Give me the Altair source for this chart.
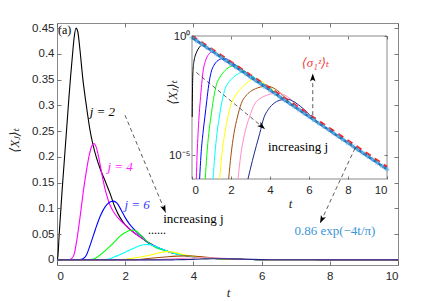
import math
import altair as alt
import pandas as pd

W, H = 341, 242

# ---------------- data ----------------
curve_labels = ["2", "4", "6", "8", "10", "12", "14", "16", "18"]
curve_colors = ["#000000", "#ff00ff", "#0000ff", "#00ff00", "#00ffff",
                "#ffff00", "#a0500f", "#ff8cc6", "#1c2a8c"]

t_j2 = [0, 0.01, 0.03, 0.06, 0.1, 0.15, 0.2, 0.25, 0.3, 0.35, 0.4, 0.45, 0.5, 0.557,
        0.61, 0.67, 0.76, 0.86, 0.96, 1.05, 1.15, 1.26, 1.4, 1.55, 1.7, 1.85, 2.0]
v_j2 = [0, 4e-4, 0.01, 0.045, 0.085, 0.135, 0.18, 0.225, 0.27, 0.315, 0.357, 0.395, 0.43, 0.45,
        0.443, 0.41, 0.35, 0.30, 0.255, 0.225, 0.20, 0.178, 0.155, 0.13, 0.102, 0.082, 0.068]

t_j4 = [0, 0.22, 0.26, 0.31, 0.36, 0.42, 0.5, 0.58, 0.68, 0.77, 0.86, 0.95, 1.02, 1.08,
        1.15, 1.25, 1.35, 1.45, 1.55, 1.7, 1.85, 2.0]
v_j4 = [0, 1e-6, 1e-5, 8e-5, 4e-4, 0.0018, 0.01, 0.038, 0.085, 0.132, 0.172, 0.205, 0.221, 0.226,
        0.219, 0.19, 0.155, 0.127, 0.107, 0.089, 0.077, 0.068]

t_j6 = [0, 0.39, 0.46, 0.56, 0.66, 0.76, 0.86, 0.98, 1.13, 1.27, 1.4, 1.52, 1.65, 1.76,
        1.88, 2.0, 2.12, 2.25, 2.4, 2.55]
v_j6 = [0, 1e-6, 1e-5, 8e-5, 4e-4, 0.002, 0.009, 0.03, 0.06, 0.085, 0.102, 0.111, 0.114, 0.11,
        0.097, 0.082, 0.07, 0.06, 0.05, 0.042]

t_j8 = [0, 0.68, 0.76, 0.86, 0.97, 1.1, 1.25, 1.4, 1.55, 1.7, 1.85, 2.0, 2.12, 2.22,
        2.32, 2.45, 2.6, 2.75, 2.9, 3.05]
v_j8 = [0, 1e-6, 1e-5, 8e-5, 4e-4, 0.0022, 0.009, 0.017, 0.026, 0.036, 0.046, 0.053, 0.057, 0.058,
        0.056, 0.048, 0.038, 0.03, 0.024, 0.02]

t_j10 = [0, 1.08, 1.17, 1.28, 1.4, 1.55, 1.71, 1.85, 2.0, 2.15, 2.3, 2.45, 2.6, 2.72,
         2.85, 3.0, 3.15, 3.3, 3.45, 3.6]
v_j10 = [0, 1e-6, 1e-5, 8e-5, 4e-4, 0.002, 0.0065, 0.0105, 0.015, 0.0195, 0.024, 0.028, 0.0298, 0.0295,
         0.027, 0.023, 0.019, 0.0155, 0.0126, 0.0102]

t_j12 = [0, 1.42, 1.53, 1.68, 1.84, 2.0, 2.2, 2.4, 2.6, 2.8, 3.0, 3.2, 3.35, 3.5, 3.7, 3.9, 4.1]
v_j12 = [0, 1e-6, 1e-5, 8e-5, 4e-4, 0.0013, 0.0029, 0.005, 0.0075, 0.0105, 0.0138, 0.016,
         0.0155, 0.0136, 0.0105, 0.008, 0.0061]

t_j14 = [0, 1.88, 2.0, 2.15, 2.33, 2.53, 2.75, 3.0, 3.25, 3.5, 3.8, 4.0, 4.2, 4.4, 4.6, 4.8]
v_j14 = [0, 1e-6, 1e-5, 8e-5, 4e-4, 0.0015, 0.003, 0.0047, 0.0061, 0.0072, 0.0078, 0.0075,
         0.0064, 0.005, 0.0036, 0.0024]

t_j16 = [0, 2.36, 2.5, 2.7, 2.95, 3.21, 3.5, 3.8, 4.1, 4.4, 4.65, 4.9, 5.15, 5.4, 5.7]
v_j16 = [0, 1e-6, 1e-5, 8e-5, 4e-4, 0.0014, 0.0024, 0.0032, 0.0038, 0.004, 0.0036, 0.0028,
         0.0019, 0.0011, 0.00068]

t_j18 = [0, 2.87, 3.1, 3.3, 3.47, 3.69, 3.9, 4.07, 4.25, 4.41, 4.6, 4.9, 5.15, 5.4, 5.7, 6.0, 6.3]
v_j18 = [0, 1e-6, 6e-6, 2.5e-5, 8e-5, 3.8e-4, 8e-4, 0.0012, 0.0016, 0.0019, 0.0021, 0.0022,
         0.0019, 0.0014, 0.0009, 0.00052, 0.0003]

# common decaying tail shared by all curves
tail_t = [2.2, 2.4, 2.6, 2.8, 3.0, 3.25, 3.5, 3.75, 4.0, 4.25, 4.5, 4.75, 5.0, 5.25, 5.5,
          5.75, 6.0, 6.5, 7.0, 7.5, 8.0, 8.5, 9.0, 9.5, 10.0]
tail_v = [0.056, 0.046, 0.037, 0.029, 0.0225, 0.0163, 0.0117, 0.0084, 0.006, 0.0042, 0.003,
          0.0021, 0.00152, 0.0011, 0.00079, 0.00057, 0.00041, 0.00022, 0.000117, 6.2e-5,
          3.3e-5, 1.75e-5, 9.2e-6, 4.9e-6, 2.6e-6]

# fitted envelope 0.86 exp(-4t/pi) (star positions)
fit_t = [0, 0.25, 0.5, 0.75, 1, 1.25, 1.5, 1.75, 2, 2.25, 2.5, 2.75, 3, 3.25, 3.5, 3.75, 4,
         4.25, 4.5, 4.75, 5, 5.25, 5.5, 5.75, 6, 6.25, 6.5, 6.75, 7, 7.25, 7.5, 7.75, 8,
         8.25, 8.5, 8.75, 9, 9.25, 9.5, 9.75, 10]
fit_v = [0.86, 0.6256, 0.4551, 0.331, 0.2408, 0.1752, 0.1274, 0.0927, 0.0674, 0.049, 0.0357,
         0.026, 0.0189, 0.01374, 0.00999, 0.00727, 0.00529, 0.00385, 0.0028, 0.00204, 0.00148,
         0.001077, 0.000783, 0.00057, 0.000414, 0.000301, 0.000219, 0.00016, 0.000116,
         8.44e-5, 6.14e-5, 4.47e-5, 3.25e-5, 2.36e-5, 1.72e-5, 1.25e-5, 9.1e-6, 6.62e-6,
         4.81e-6, 3.5e-6, 2.55e-6]

# <sigma_1^z>_t
sig_t = [0, 1, 2, 3, 4, 5, 6, 7, 8, 9, 10]
sig_v = [1.0, 0.29, 0.082, 0.023, 0.0065, 0.00183, 0.000515, 0.000145, 4.1e-5, 1.15e-5, 3.25e-6]

# tick values
main_xticks = [0, 2, 4, 6, 8, 10]
main_yticks = [0, 0.05, 0.1, 0.15, 0.2, 0.25, 0.3, 0.35, 0.4, 0.45]
inset_yticks = [1e-5, 1]

# annotations (main-axes data coordinates)
arrow_t0 = [1.994, 4.086, 7.50, 8.74]
arrow_v0 = [0.281, 0.364, 0.281, 0.217]
arrow_t1 = [3.188, 6.10, 7.50, 7.714]
arrow_v1 = [0.0916, 0.254, 0.362, 0.071]

curves_t = [t_j2, t_j4, t_j6, t_j8, t_j10, t_j12, t_j14, t_j16, t_j18]
curves_v = [v_j2, v_j4, v_j6, v_j8, v_j10, v_j12, v_j14, v_j16, v_j18]

rows = []
for lab, ts, vs in zip(curve_labels, curves_t, curves_v):
    for t, v in zip(ts, vs):
        rows.append({"j": lab, "t": t, "v": v})
    for t, v in zip(tail_t, tail_v):
        if t > ts[-1] + 1e-9:
            rows.append({"j": lab, "t": t, "v": v})
df = pd.DataFrame(rows)

fit_df = pd.DataFrame({"t": fit_t, "v": fit_v})
sig_df = pd.DataFrame({"t": sig_t, "v": sig_v})
frame_df = pd.DataFrame({"x0": [0], "x1": [10], "y0": [1e-6], "y1": [1.0]})

# ---------------- scales ----------------
X_MAIN = alt.Scale(domain=[0, 10], nice=False, zero=False)
Y_MAIN = alt.Scale(domain=[-0.01, 0.46], nice=False, zero=False)
IN_L, IN_R, IN_T, IN_B = 135, 330, 13, 156
X_IN = alt.Scale(domain=[0, 10], range=[IN_L, IN_R], nice=False, zero=False)
Y_IN = alt.Scale(type="log", domain=[1e-6, 1], range=[IN_B, IN_T], nice=False)

LABEL_FONT = "Liberation Sans, Arial, sans-serif"
SERIF = "Liberation Serif, DejaVu Serif, serif"
FRAME = "#8a8a8a"
TICK = "#555555"

COLOR = alt.Color("j:N", scale=alt.Scale(domain=curve_labels, range=curve_colors), legend=None)


def axis(orient, values, offset, size, labels=True, **kw):
    base = dict(orient=orient, values=values, offset=offset, tickSize=size, domain=False,
                grid=False, tickColor=TICK, tickWidth=0.8, labels=labels, zindex=2,
                labelFont=LABEL_FONT, labelFontSize=11.5, labelColor="#262626")
    base.update(kw)
    return alt.Axis(**base)


title_kw = dict(titleFont=SERIF, titleFontStyle="italic", titleFontWeight="normal",
                titleFontSize=13, titleColor="#262626", titleBaseline="middle",
                titleAlign="center")

# ---------------- main axes ----------------
main_lines = alt.Chart(df).mark_line(strokeWidth=1.1, interpolate="monotone").encode(
    x=alt.X("t:Q", scale=X_MAIN,
            axis=axis("bottom", main_xticks, -4, 4, labelPadding=5, title="t",
                      titleX=171, titleY=31, **title_kw)),
    y=alt.Y("v:Q", scale=Y_MAIN,
            axis=axis("left", main_yticks, -4, 4, labelPadding=3, format="~g",
                      title="⟨Xⱼ⟩ₜ", titleX=-47, titleY=117, titleAngle=270, **title_kw)),
    color=COLOR,
    detail="j:N",
)

main_ticks2 = alt.Chart(df).mark_point(opacity=0).encode(
    x=alt.X("t:Q", scale=X_MAIN, axis=axis("top", main_xticks, -4, 4, labels=False, title=None)),
    y=alt.Y("v:Q", scale=Y_MAIN, axis=axis("right", main_yticks, -4, 4, labels=False, title=None)),
)

# ---------------- inset ----------------
inset_frame = alt.Chart(frame_df).mark_rect(fill="white", stroke=FRAME, strokeWidth=1).encode(
    x=alt.X("x0:Q", scale=X_IN,
            axis=axis("bottom", main_xticks, -(H - IN_B) - 3, 3, labelPadding=5, title="t",
                      titleX=233, titleY=27, **title_kw)),
    x2="x1:Q",
    y=alt.Y("y0:Q", scale=Y_IN,
            axis=axis("left", inset_yticks, -(IN_L + 3), 3, labelPadding=2,
                      labelExpr="datum.value > 0.5 ? '10⁰' : '10⁻⁵'",
                      title="⟨Xⱼ⟩ₜ", titleX=-23, titleY=69, titleAngle=270, **title_kw)),
    y2="y1:Q",
)

inset_ticks2 = alt.Chart(frame_df).mark_rect(opacity=0).encode(
    x=alt.X("x0:Q", scale=X_IN, axis=axis("top", main_xticks, -(IN_T + 3), 3, labels=False, title=None)),
    x2="x1:Q",
    y=alt.Y("y0:Q", scale=Y_IN, axis=axis("right", inset_yticks, -(W - IN_R) - 3, 3, labels=False, title=None)),
    y2="y1:Q",
)

inset_lines = alt.Chart(df).transform_filter("datum.v >= 9e-7").mark_line(
    strokeWidth=1, interpolate="monotone").encode(
    x=alt.X("t:Q", scale=X_IN, axis=None),
    y=alt.Y("v:Q", scale=Y_IN, axis=None),
    color=COLOR,
    detail="j:N",
)

fit_line = alt.Chart(fit_df).mark_line(color="#1a6fb5", strokeWidth=2.6).encode(
    x=alt.X("t:Q", scale=X_IN, axis=None),
    y=alt.Y("v:Q", scale=Y_IN, axis=None),
)

ASTERISK = "M-1,0L1,0M0,-1L0,1M-0.7,-0.7L0.7,0.7M-0.7,0.7L0.7,-0.7"
fit_stars = alt.Chart(fit_df).mark_point(shape=ASTERISK, size=26, filled=False,
                                         color="#6ab4e8", strokeWidth=0.7, opacity=1).encode(
    x=alt.X("t:Q", scale=X_IN, axis=None),
    y=alt.Y("v:Q", scale=Y_IN, axis=None),
)

sig_line = alt.Chart(sig_df).mark_line(color="#ff1a1a", strokeWidth=2.2, strokeDash=[6, 5]).encode(
    x=alt.X("t:Q", scale=X_IN, axis=None),
    y=alt.Y("v:Q", scale=Y_IN, axis=None),
)

# ---------------- annotations ----------------
def txt(t, v, s, color="#000000", size=12.5, style="normal", font=SERIF):
    d = pd.DataFrame({"t": [t], "v": [v], "s": [s]})
    return alt.Chart(d).mark_text(color=color, fontSize=size, fontStyle=style, font=font,
                                  align="center", baseline="middle").encode(
        x=alt.X("t:Q", scale=X_MAIN, axis=None),
        y=alt.Y("v:Q", scale=Y_MAIN, axis=None),
        text="s:N",
    )


texts = [
    txt(0.226, 0.446, "(a)", size=12),
    txt(1.33, 0.288, "j = 2", style="italic", size=13),
    txt(1.85, 0.181, "j = 4", color="#ff22ff", style="italic", size=13),
    txt(2.35, 0.106, "j = 6", color="#3b3bff", style="italic", size=13),
    txt(4.0, 0.079, "increasing j", size=13),
    txt(2.93, 0.058, "......", size=12),
    txt(7.07, 0.22, "increasing j", size=13),
    txt(7.58, 0.382, "⟨σ₁ᶻ⟩ₜ", color="#f03c3c", style="italic", size=13),
    txt(8.15, 0.057, "0.86 exp(−4t/π)", color="#3d95d6", size=13),
]

sx = W / 10.0
sy = H / 0.47
angles = []
for a0, b0, a1, b1 in zip(arrow_t0, arrow_v0, arrow_t1, arrow_v1):
    dx = (a1 - a0) * sx
    dy = -(b1 - b0) * sy
    angles.append(math.degrees(math.atan2(dx, -dy)) % 360)

arrow_df = pd.DataFrame({"t0": arrow_t0, "v0": arrow_v0, "t1": arrow_t1, "v1": arrow_v1,
                         "ang": angles})

arrow_lines = alt.Chart(arrow_df).mark_rule(color="#333333", strokeWidth=0.8,
                                            strokeDash=[4, 3]).encode(
    x=alt.X("t0:Q", scale=X_MAIN, axis=None),
    y=alt.Y("v0:Q", scale=Y_MAIN, axis=None),
    x2="t1:Q",
    y2="v1:Q",
)

ARROW = "M0,0L0.55,1.6L0,1.2L-0.55,1.6Z"
arrow_heads = alt.Chart(arrow_df).mark_point(shape=ARROW, size=100, filled=True,
                                             color="#000000", opacity=1).encode(
    x=alt.X("t1:Q", scale=X_MAIN, axis=None),
    y=alt.Y("v1:Q", scale=Y_MAIN, axis=None),
    angle=alt.Angle("ang:Q", scale=None),
)

chart = alt.layer(
    main_lines, main_ticks2,
    inset_frame, inset_ticks2, inset_lines, sig_line, fit_line, fit_stars,
    arrow_lines, arrow_heads, *texts,
).resolve_scale(
    x="independent", y="independent", color="independent"
).properties(
    width=W, height=H,
    autosize=alt.AutoSizeParams(type="none"),
    padding={"left": 49, "top": 15, "right": 34, "bottom": 40},
    background="white",
).configure_view(
    stroke=FRAME, strokeWidth=1
)

chart.save("out.html", embed_options={"renderer": "svg", "actions": False})
